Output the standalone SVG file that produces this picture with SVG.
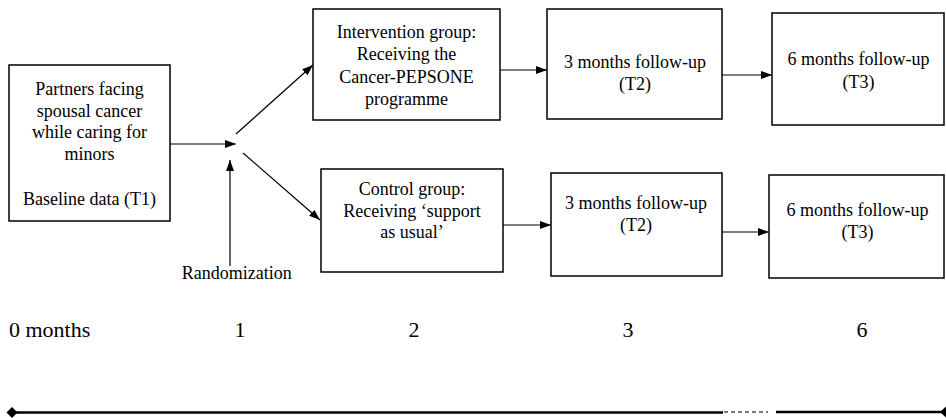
<svg xmlns="http://www.w3.org/2000/svg" width="946" height="418" viewBox="0 0 946 418">
<style>
.box{fill:#fff;stroke:#000;stroke-width:1.5}
.t{font-family:'Liberation Serif','Times New Roman',Tinos,'Noto Serif','Nimbus Roman','FreeSerif','DejaVu Serif',serif;font-size:18px;fill:#000;text-anchor:middle}
.lbl{font-family:'Liberation Serif','Times New Roman',Tinos,'Noto Serif','Nimbus Roman','FreeSerif','DejaVu Serif',serif;font-size:22px;fill:#000}
.c{stroke:#000;stroke-width:1.2;fill:none;marker-end:url(#ah)}
</style>
<defs>
<marker id="ah" markerUnits="userSpaceOnUse" markerWidth="11" markerHeight="8" refX="11" refY="4" orient="auto">
<path d="M0,0 L11,4 L0,8 z" fill="#000"/>
</marker>
</defs>
<rect width="946" height="418" fill="#fff"/>
<g id="connectors">
<line class="c" x1="170" y1="144" x2="236" y2="144"/>
<line class="c" x1="230" y1="266" x2="230" y2="160"/>
<line class="c" x1="236" y1="134" x2="313" y2="65"/>
<line class="c" x1="243" y1="153" x2="320" y2="220"/>
<line class="c" x1="500" y1="70" x2="547" y2="70"/>
<line class="c" x1="503" y1="225" x2="551" y2="225"/>
<line class="c" x1="722" y1="75" x2="772" y2="75"/>
<line class="c" x1="722" y1="232" x2="769" y2="232"/>
</g>
<g id="n1">
<rect class="box" x="9" y="65" width="161" height="156"/>
<text class="t" x="89.5" y="95">Partners facing</text>
<text class="t" x="89.5" y="117">spousal cancer</text>
<text class="t" x="89.5" y="138">while caring for</text>
<text class="t" x="89.5" y="160">minors</text>
<text class="t" x="89.5" y="205">Baseline data (T1)</text>
</g>
<g id="n2">
<rect class="box" x="313" y="9" width="187" height="111"/>
<text class="t" x="406.5" y="38">Intervention group:</text>
<text class="t" x="406.5" y="60">Receiving the</text>
<text class="t" x="406.5" y="83">Cancer-PEPSONE</text>
<text class="t" x="406.5" y="105">programme</text>
</g>
<g id="n3">
<rect class="box" x="321" y="169" width="182" height="103"/>
<text class="t" x="412" y="195">Control group:</text>
<text class="t" x="412" y="217">Receiving  ‘support</text>
<text class="t" x="412" y="238">as usual’</text>
</g>
<g id="n4">
<rect class="box" x="547" y="9" width="175" height="110"/>
<text class="t" x="635" y="68">3 months follow-up</text>
<text class="t" x="635" y="90">(T2)</text>
</g>
<g id="n5">
<rect class="box" x="772" y="13" width="172" height="112"/>
<text class="t" x="858.5" y="65">6 months follow-up</text>
<text class="t" x="858.5" y="88">(T3)</text>
</g>
<g id="n6">
<rect class="box" x="551" y="173" width="171" height="103"/>
<text class="t" x="636" y="209">3 months follow-up</text>
<text class="t" x="636" y="231">(T2)</text>
</g>
<g id="n7">
<rect class="box" x="769" y="175" width="175" height="103"/>
<text class="t" x="857.5" y="216">6 months follow-up</text>
<text class="t" x="857.5" y="238">(T3)</text>
</g>
<g id="randomization">
<text class="t" x="236.7" y="279">Randomization</text>
</g>
<g id="timeline">
<text class="lbl" x="9" y="337">0 months</text>
<text class="lbl" x="240" y="337" text-anchor="middle">1</text>
<text class="lbl" x="414" y="337" text-anchor="middle">2</text>
<text class="lbl" x="628" y="337" text-anchor="middle">3</text>
<text class="lbl" x="862" y="337" text-anchor="middle">6</text>
<line x1="12" y1="412.5" x2="723" y2="412.5" stroke="#000" stroke-width="2.5"/>
<line x1="724" y1="412" x2="768" y2="412" stroke="#777" stroke-width="2" stroke-dasharray="4,3"/>
<line x1="776" y1="412" x2="944" y2="412" stroke="#000" stroke-width="2.5"/>
<path d="M6.5,412.5 L12,407 L17.5,412.5 L12,418 z" fill="#000"/>
<path d="M940,412 L946,406.5 L946,417.5 z" fill="#000"/>
</g>
</svg>
